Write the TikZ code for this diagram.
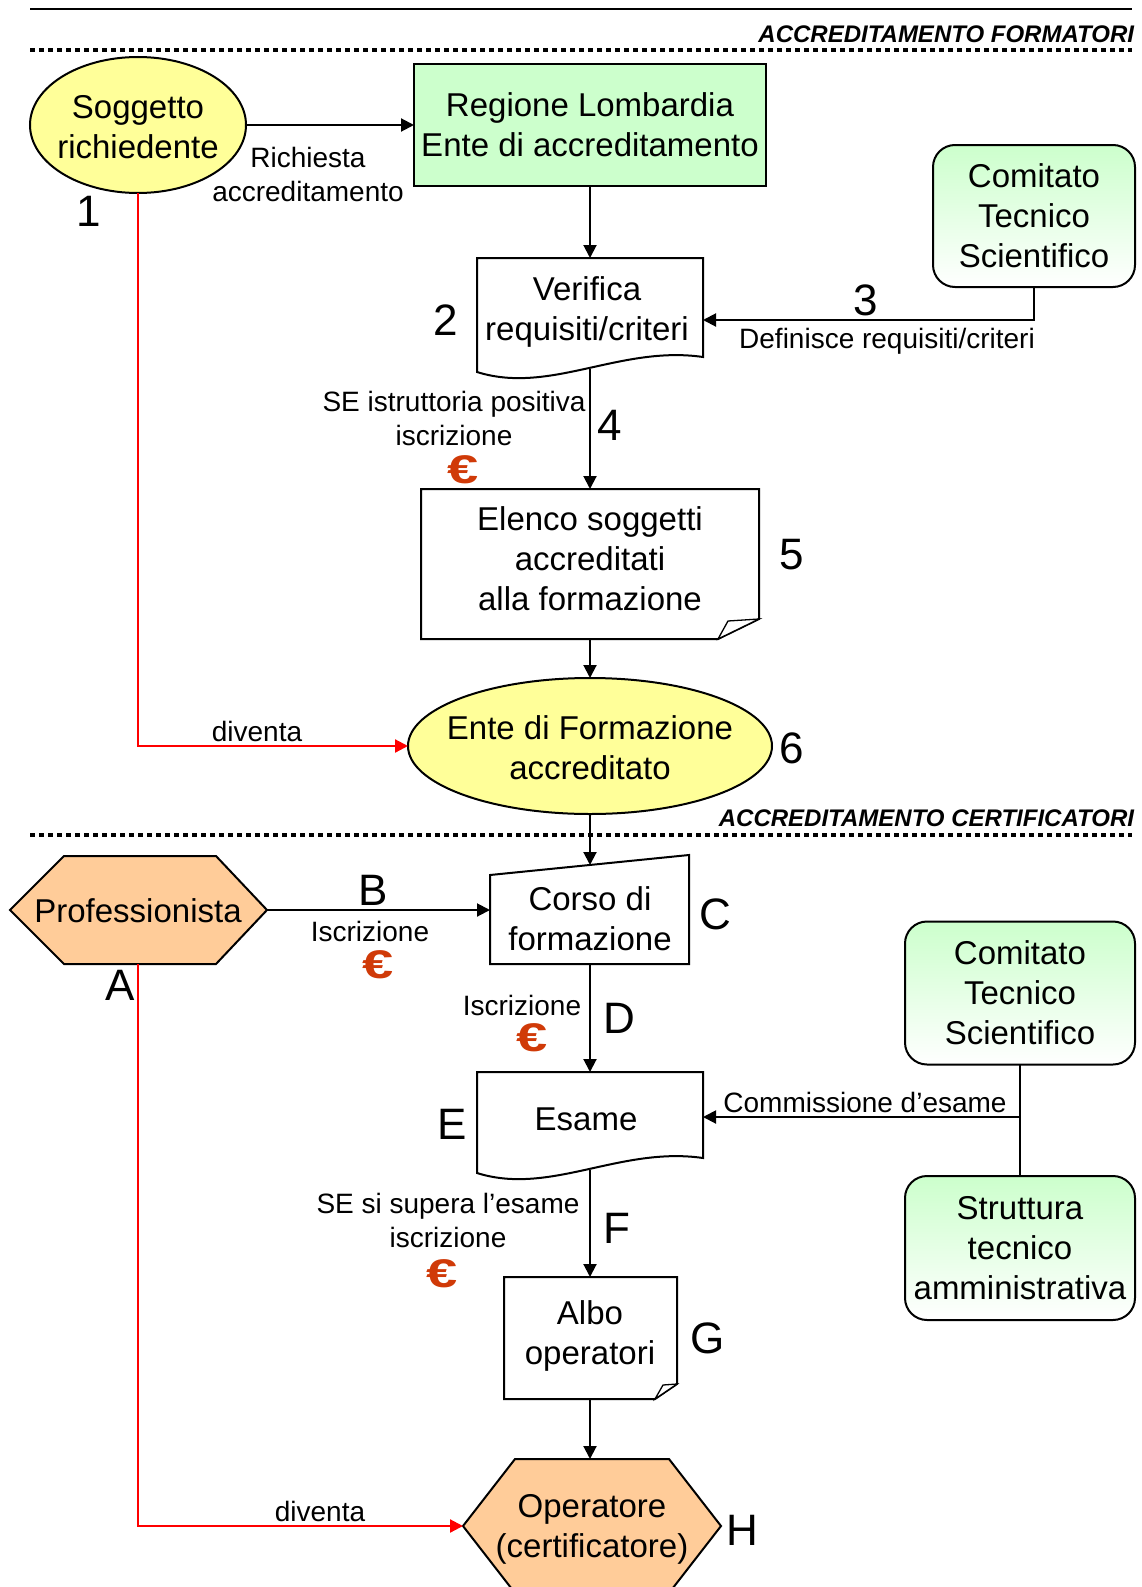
\documentclass[tikz,border=0pt]{standalone}
\usepackage{fontspec}
\setmainfont{Liberation Sans}
\usetikzlibrary{shapes.geometric,arrows.meta,calc}
\definecolor{yel}{RGB}{255,255,153}
\definecolor{grn}{RGB}{204,255,204}
\definecolor{org}{RGB}{255,204,153}
\definecolor{eurored}{RGB}{208,58,8}
\begin{document}
\begin{tikzpicture}[x=1pt,y=-1pt,
 every node/.style={inner sep=0pt, outer sep=0pt},
 lbl/.style={font=\fontsize{33}{40}\selectfont, align=center},
 small/.style={font=\fontsize{28}{34}\selectfont, align=center},
 num/.style={font=\fontsize{44}{44}\selectfont},
 head/.style={font=\fontsize{24}{24}\selectfont\bfseries\itshape, anchor=east},
 euro/.style={font=\fontsize{40}{40}\selectfont\bfseries, text=eurored, xscale=1.4},
 bord/.style={draw=black, line width=2pt},
 arr/.style={line width=2pt, -{Triangle[length=13pt,width=13pt]}},
 redarr/.style={draw=red, line width=2.2pt, -{Triangle[length=13pt,width=13pt]}},
 dotline/.style={line width=4.5pt, dash pattern=on 4.5pt off 4.5pt},
 cts/.style={bord, rounded corners=22pt, top color=grn, bottom color=white, lbl}
]
\useasboundingbox (0,0) rectangle (1142,1587);
\fill[white] (0,0) rectangle (1142,1587);

% header lines
\draw[line width=1.5pt] (30,9) -- (1132,9);
\node[head] (h1) at (1134,34) {ACCREDITAMENTO FORMATORI};
\draw[dotline] (30,50) -- (1132,50);

% --- section 1
\node[ellipse, bord, fill=yel, minimum width=216pt, minimum height=136pt] (sog) at (138,125) {};
\node[lbl] (sogt) at (138,127) {Soggetto\\richiedente};
\node[bord, fill=grn, minimum width=352pt, minimum height=121pt, lbl] (reg) at (590,125) {Regione Lombardia\\Ente di accreditamento};
\draw[arr] (sog.east) -- (reg.west);
\node[small] (rich) at (308,174) {Richiesta\\accreditamento};
\node[num] (n1) at (89,211) {1};

% Verifica
\draw[bord, fill=white] (477,258) -- (703,258) -- (703,357) .. controls (620,345) and (550,395) .. (477,372) -- cycle;
\coordinate (verN) at (590,258);
\coordinate (verE) at (703,320);
\coordinate (verS) at (590,369);
\node[lbl] (ver) at (587,312) {Verifica\\requisiti/criteri};
\node[num] (n2) at (446,320) {2};
\draw[arr] (reg.south) -- (verN);

\node[cts, minimum width=202pt, minimum height=142pt] (cts1) at (1034,216) {Comitato\\Tecnico\\Scientifico};
\draw[arr] (cts1.south) |- (verE);
\node[num] (n3) at (866,300) {3};
\node[small] (def) at (887,341) {Definisce requisiti/criteri};

% Elenco
\draw[bord, fill=white] (421,489) -- (759,489) -- (759,619) -- (718,639) -- (421,639) -- cycle;
\draw[bord, fill=white, line width=1.3pt] (718,639) -- (728,621) -- (759,619) -- cycle;
\coordinate (eleN) at (590,489);
\coordinate (eleS) at (590,639);
\node[lbl] (ele) at (590,559) {Elenco soggetti\\accreditati\\alla formazione};
\draw[arr] (verS) -- (eleN);
\node[num] (n4) at (610,425) {4};
\node[small] (se1) at (454,418) {SE istruttoria positiva\\iscrizione};
\node[euro] (eu1) at (463,470) {€};
\node[num] (n5) at (792,555) {5};

\node[ellipse, bord, fill=yel, minimum width=364pt, minimum height=136pt] (ent) at (590,746) {};
\node[lbl] (entt) at (590,748) {Ente di Formazione\\accreditato};
\draw[arr] (eleS) -- (ent.north);
\node[num] (n6) at (792,748) {6};
\draw[redarr] (sog.south) |- (ent.west);
\node[small] (div1) at (257,731) {diventa};

% --- section 2
\node[head] (h2) at (1134,818) {ACCREDITAMENTO CERTIFICATORI};
\draw[dotline] (30,835) -- (1132,835);

% Corso
\draw[bord, fill=white] (490,875) -- (689,855) -- (689,964) -- (490,964) -- cycle;
\coordinate (corN) at (590,865);
\coordinate (corW) at (490,910);
\coordinate (corS) at (590,964);
\node[lbl] (cor) at (590,919) {Corso di\\formazione};
\draw[arr] (ent.south) -- (corN);
\node[num] (nC) at (715,914) {C};

% Professionista
\draw[bord, fill=org] (10,910) -- (64,856) -- (216,856) -- (267,910) -- (216,964) -- (64,964) -- cycle;
\coordinate (proE) at (267,910);
\coordinate (proS) at (138,964);
\node[lbl] (pro) at (138,911) {Professionista};
\draw[arr] (proE) -- (corW);
\node[num] (nB) at (373,890) {B};
\node[small] (isc1) at (370,931) {Iscrizione};
\node[euro] (eu2) at (378,965) {€};
\node[num] (nA) at (120,985) {A};

% Esame
\draw[bord, fill=white] (477,1072) -- (703,1072) -- (703,1158) .. controls (620,1146) and (550,1196) .. (477,1173) -- cycle;
\coordinate (esaN) at (590,1072);
\coordinate (esaE) at (703,1117);
\coordinate (esaS) at (590,1170);
\node[lbl] (esa) at (586,1119) {Esame};
\node[num] (nE) at (452,1124) {E};
\draw[arr] (corS) -- (esaN);
\node[small] (isc2) at (522,1005) {Iscrizione};
\node[euro] (eu3) at (532,1038) {€};
\node[num] (nD) at (619,1018) {D};

\node[cts, minimum width=230pt, minimum height=143pt] (cts2) at (1020,993) {Comitato\\Tecnico\\Scientifico};
\node[cts, minimum width=230pt, minimum height=144pt] (str) at (1020,1248) {Struttura\\tecnico\\amministrativa};
\draw[bord] (cts2.south) -- (str.north);
\coordinate (cm) at (1020,1117);
\draw[arr] (cm) -- (esaE);
\node[small] (com) at (865,1102) {Commissione d’esame};

% Albo
\draw[bord, fill=white] (504,1277) -- (677,1277) -- (677,1384) -- (655,1399) -- (504,1399) -- cycle;
\draw[bord, fill=white, line width=1.3pt] (655,1399) -- (663,1385) -- (677,1384) -- cycle;
\coordinate (albN) at (590,1277);
\coordinate (albS) at (590,1399);
\node[lbl] (alb) at (590,1336) {Albo\\operatori};
\node[num] (nG) at (708,1338) {G};
\draw[arr] (esaS) -- (albN);
\node[small] (se2) at (448,1220) {SE si supera l’esame\\iscrizione};
\node[euro] (eu4) at (442,1274) {€};
\node[num] (nF) at (617,1228) {F};

% Operatore
\draw[bord, fill=org] (463,1526) -- (515,1459) -- (669,1459) -- (721,1526) -- (669,1593) -- (515,1593) -- cycle;
\coordinate (opeN) at (590,1459);
\coordinate (opeW) at (463,1526);
\node[lbl] (ope) at (592,1529) {Operatore\\(certificatore)};
\node[num] (nH) at (742,1530) {H};
\draw[arr] (albS) -- (opeN);
\draw[redarr] (proS) |- (opeW);
\node[small] (div2) at (320,1511) {diventa};
\end{tikzpicture}
\end{document}
